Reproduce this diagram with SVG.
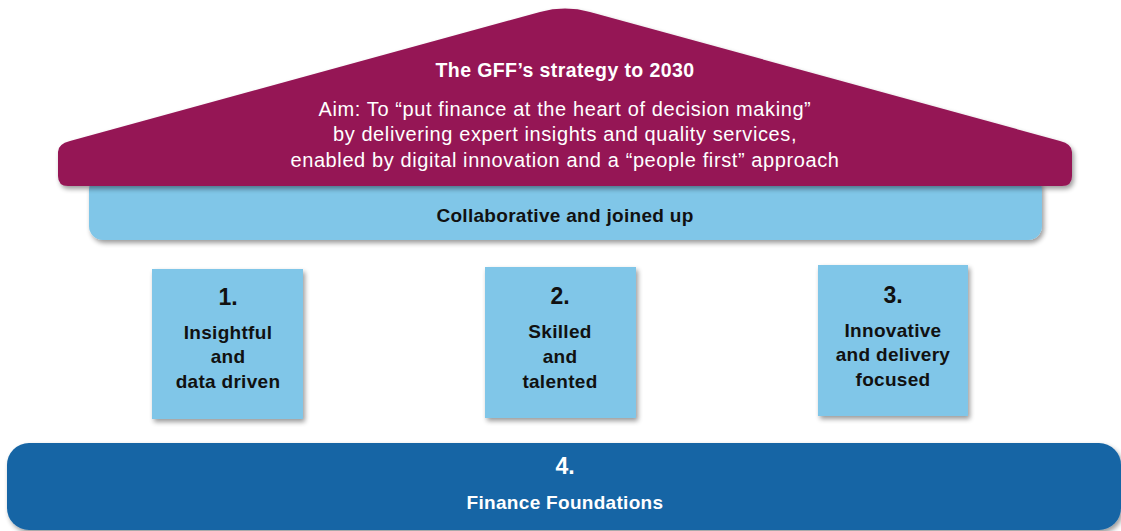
<svg xmlns="http://www.w3.org/2000/svg" width="1121" height="531" viewBox="0 0 1121 531">
  <defs>
    <filter id="shadow" x="-10%" y="-20%" width="120%" height="150%">
      <feGaussianBlur in="SourceAlpha" stdDeviation="2.5"/>
      <feOffset dx="2" dy="3" result="off"/>
      <feComponentTransfer><feFuncA type="linear" slope="0.4"/></feComponentTransfer>
      <feMerge><feMergeNode/><feMergeNode in="SourceGraphic"/></feMerge>
    </filter>
    <style>
      text { font-family: "Liberation Sans", Arial, Helvetica, sans-serif; text-anchor: middle; }
      .roof { fill: #951555; }
      .band { fill: #80c6e8; }
      .pillar { fill: #80c6e8; }
      .base { fill: #1565a5; }
      .title { fill: #ffffff; font-size: 19.5px; font-weight: bold; letter-spacing: 0.4px; }
      .aim { fill: #ffffff; font-size: 20px; letter-spacing: 0.6px; }
      .dark { fill: #111111; font-size: 19px; font-weight: bold; letter-spacing: 0.3px; }
      .num { fill: #111111; font-size: 23px; font-weight: bold; }
      .numw { fill: #ffffff; font-size: 23px; font-weight: bold; }
      .basetxt { fill: #ffffff; font-size: 19px; font-weight: bold; letter-spacing: 0.3px; }
    </style>
  </defs>

  <!-- foundation -->
  <g id="foundation">
    <rect class="base" x="7" y="443" width="1114" height="87" rx="22" filter="url(#shadow)"/>
    <text class="numw" x="565" y="474">4.</text>
    <text class="basetxt" x="565" y="509">Finance Foundations</text>
  </g>

  <!-- pillars -->
  <g id="pillar1">
    <rect class="pillar" x="152" y="269" width="151" height="150" filter="url(#shadow)"/>
    <text class="num" x="228" y="305">1.</text>
    <text class="dark" x="228" y="339">Insightful</text>
    <text class="dark" x="228" y="363">and</text>
    <text class="dark" x="228" y="388">data driven</text>
  </g>
  <g id="pillar2">
    <rect class="pillar" x="485" y="267" width="151" height="151" filter="url(#shadow)"/>
    <text class="num" x="560" y="304">2.</text>
    <text class="dark" x="560" y="338">Skilled</text>
    <text class="dark" x="560" y="363">and</text>
    <text class="dark" x="560" y="388">talented</text>
  </g>
  <g id="pillar3">
    <rect class="pillar" x="818" y="265" width="150" height="151" filter="url(#shadow)"/>
    <text class="num" x="893" y="303">3.</text>
    <text class="dark" x="893" y="337">Innovative</text>
    <text class="dark" x="893" y="361">and delivery</text>
    <text class="dark" x="893" y="386">focused</text>
  </g>

  <!-- lintel band -->
  <g id="band">
    <rect class="band" x="89" y="176" width="953" height="64" rx="14" filter="url(#shadow)"/>
    <text class="dark" x="565" y="222">Collaborative and joined up</text>
  </g>

  <!-- roof -->
  <g id="roof">
    <path class="roof" filter="url(#shadow)" d="M58,176 L58,152 Q58,144 70,141 L540,11.9 Q565,5 590,11.9 L1060,141 Q1072,144 1072,152 L1072,176 Q1072,186 1062,186 L68,186 Q58,186 58,176 Z"/>
    <text class="title" x="565" y="77">The GFF’s strategy to 2030</text>
    <text class="aim" x="565" y="116">Aim: To “put finance at the heart of decision making”</text>
    <text class="aim" x="565" y="141">by delivering expert insights and quality services,</text>
    <text class="aim" x="565" y="167">enabled by digital innovation and a “people first” approach</text>
  </g>

  <g id="connectors"/>
</svg>
